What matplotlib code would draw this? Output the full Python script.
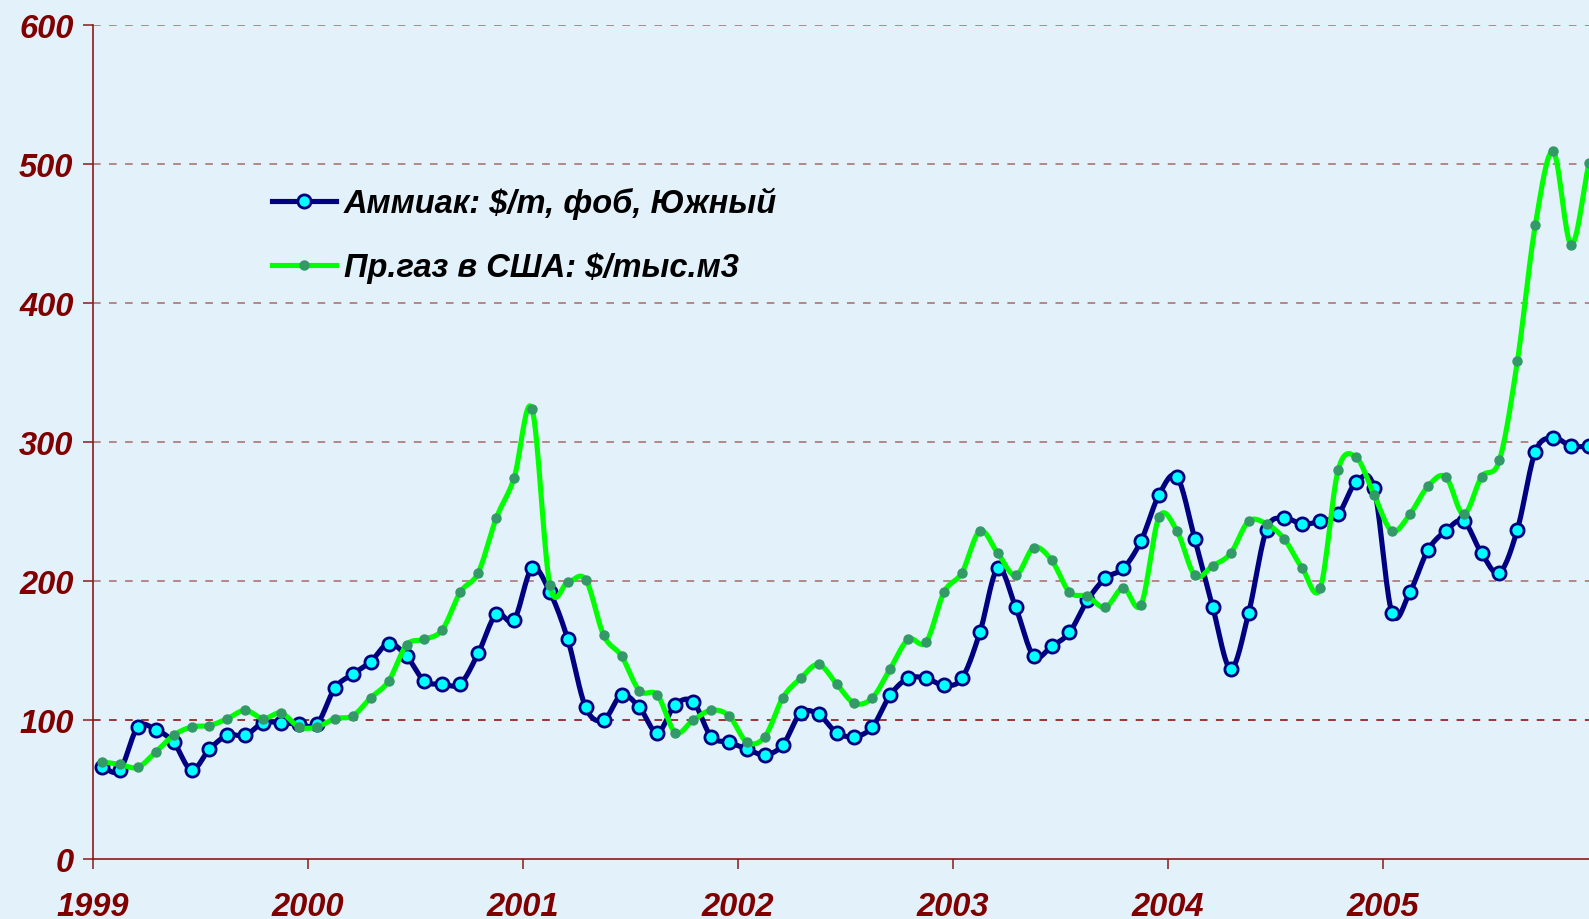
import matplotlib
matplotlib.use('Agg')
import matplotlib.pyplot as plt
from matplotlib.lines import Line2D
import numpy as np

BG_COLOR = '#E3F1FB'
AXIS_COLOR = '#8B1A1A'
GRID_COLOR = '#A86868'
LABEL_COLOR = '#800000'

# monthly values, Jan 1999 .. Dec 2005
ammonia = [66, 64, 95, 93, 84, 64, 79, 89, 89, 98, 98, 97,
           97, 123, 133, 142, 155, 146, 128, 126, 126, 148, 176, 172,
           209, 192, 158, 109, 100, 118, 109, 91, 111, 113, 88, 84,
           79, 75, 82, 105, 104, 91, 88, 95, 118, 130, 130, 125,
           130, 163, 209, 181, 146, 153, 163, 186, 202, 209, 229, 262,
           275, 230, 181, 137, 177, 237, 245, 241, 243, 248, 271, 267,
           177, 192, 222, 236, 243, 220, 206, 237, 293, 303, 297, 297]

gas = [70, 68, 66, 77, 89, 95, 96, 101, 107, 101, 105, 95,
       95, 101, 103, 116, 128, 154, 158, 165, 192, 206, 245, 274,
       324, 197, 199, 201, 161, 146, 121, 118, 91, 100, 107, 103,
       84, 88, 116, 130, 140, 126, 112, 116, 137, 158, 156, 192,
       206, 236, 220, 204, 224, 215, 192, 189, 181, 195, 183, 246,
       236, 204, 211, 220, 243, 241, 230, 209, 195, 280, 289, 262,
       236, 248, 268, 275, 248, 275, 287, 358, 456, 509, 442, 501]

start_year = 1999
years = list(range(1999, 2006))
y_ticks = [0, 100, 200, 300, 400, 500, 600]

label_ammonia = 'Аммиак: $/т, фоб, Южный'
label_gas = 'Пр.газ в США: $/тыс.м3'


def smooth(x, y, n=16):
    # Catmull-Rom curve through the points, like a "smoothed line" chart
    x = np.asarray(x, float)
    y = np.asarray(y, float)
    px = np.concatenate([[2*x[0]-x[1]], x, [2*x[-1]-x[-2]]])
    py = np.concatenate([[2*y[0]-y[1]], y, [2*y[-1]-y[-2]]])
    t = np.linspace(0, 1, n, endpoint=False)
    xs, ys = [], []
    for i in range(1, len(px)-2):
        for p, out in ((px, xs), (py, ys)):
            p0, p1, p2, p3 = p[i-1], p[i], p[i+1], p[i+2]
            out.extend(0.5*((2*p1) + (-p0+p2)*t + (2*p0-5*p1+4*p2-p3)*t**2
                            + (-p0+3*p1-3*p2+p3)*t**3))
    xs.append(x[-1])
    ys.append(y[-1])
    return np.array(xs), np.array(ys)


x = start_year + (np.arange(len(ammonia)) + 0.5)/12.

plt.rcParams['font.family'] = ['Liberation Sans', 'DejaVu Sans']
plt.rcParams['font.weight'] = 'bold'
plt.rcParams['font.style'] = 'italic'

W, H = 1589, 920
fig = plt.figure(figsize=(W/100., H/100.), dpi=100, facecolor=BG_COLOR)
ax = fig.add_axes([93./W, 60./H, (W-93.)/W, (860.-26.)/H])
ax.set_facecolor(BG_COLOR)

for v in y_ticks[1:]:
    ax.axhline(v, color=('#8B0000' if v == 100 else GRID_COLOR), lw=1.1,
               dashes=(5, 5.5), zorder=1)

LW = 3.7
xa, ya = smooth(x, ammonia)
ax.plot(xa, ya, color='#000080', lw=LW, zorder=3, solid_capstyle='round')
ax.plot(x, ammonia, ls='none', marker='o', ms=9.5, mfc='#00FFFF', mec='#000080',
        mew=2, zorder=4)

xg, yg = smooth(x, gas)
ax.plot(xg, yg, color='#00FF00', lw=LW, zorder=5, solid_capstyle='round')
ax.plot(x, gas, ls='none', marker='o', ms=7.5, mfc='#339966', mec='#339966',
        mew=0, zorder=6)

ax.set_xlim(start_year, start_year + (W-93.)/215.)
ax.set_ylim(0, 600)
ax.set_xticks(years)
ax.set_xticklabels([str(y) for y in years])
ax.set_yticks(y_ticks)

for side in ('top', 'right'):
    ax.spines[side].set_visible(False)
for side in ('left', 'bottom'):
    ax.spines[side].set_color(AXIS_COLOR)
    ax.spines[side].set_linewidth(1.2)

ax.tick_params(axis='both', direction='out', length=7, width=1.1, color=AXIS_COLOR,
               labelcolor=LABEL_COLOR, labelsize=23.5)
ax.tick_params(axis='y', pad=7)
ax.tick_params(axis='x', pad=16)
for lbl in ax.get_xticklabels() + ax.get_yticklabels():
    lbl.set_fontweight('bold')
    lbl.set_fontstyle('italic')

handles = [
    Line2D([], [], color='#000080', lw=LW, marker='o', ms=9.5, mfc='#00FFFF',
           mec='#000080', mew=2),
    Line2D([], [], color='#00FF00', lw=LW, marker='o', ms=7.5, mfc='#339966',
           mec='#339966', mew=0),
]
leg = ax.legend(handles, [label_ammonia, label_gas], loc='center left',
                bbox_to_anchor=(272./W, 1 - 236./H), bbox_transform=fig.transFigure,
                frameon=False, borderpad=0, borderaxespad=0, handlelength=1.95,
                handletextpad=0.25, labelspacing=1.0,
                prop={'family': ['Liberation Sans', 'DejaVu Sans'], 'weight': 'bold',
                      'style': 'italic', 'size': 23.5})
for t in leg.get_texts():
    t.set_color('black')

fig.savefig('out.png', dpi=100, facecolor=BG_COLOR)
